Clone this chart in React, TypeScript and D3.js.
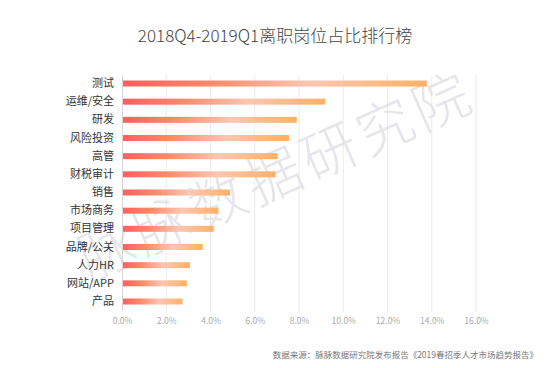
import React, { useEffect, useRef } from "react";
import * as d3 from "d3";

const categories = [
  "测试",
  "运维/安全",
  "研发",
  "风险投资",
  "高管",
  "财税审计",
  "销售",
  "市场商务",
  "项目管理",
  "品牌/公关",
  "人力HR",
  "网站/APP",
  "产品",
];
const values = [13.78, 9.19, 7.9, 7.55, 7.04, 6.94, 4.89, 4.36, 4.15, 3.65, 3.07, 2.93, 2.74];
const xTicks = [0, 2, 4, 6, 8, 10, 12, 14, 16];

const title = "2018Q4-2019Q1离职岗位占比排行榜";
const source = "数据来源：脉脉数据研究院发布报告《2019春招季人才市场趋势报告》";
const watermark = "脉脉数据研究院";

const font = "'Noto Sans CJK SC', 'Noto Sans', sans-serif";

const App = () => {
  const ref = useRef<SVGSVGElement>(null);

  useEffect(() => {
    const width = 550;
    const height = 368;
    const svg = d3.select(ref.current);
    svg.selectAll("*").remove();
    svg.attr("viewBox", [0, 0, width, height]).attr("width", width).attr("height", height);

    const x = d3.scaleLinear().domain([0, 16]).range([122, 476]);
    const y = d3.scaleBand().domain(categories).range([74.5, 310.5]).paddingInner(0.67).paddingOuter(0.33);

    const defs = svg.append("defs");
    const grad = defs
      .append("linearGradient")
      .attr("id", "barGrad")
      .attr("x1", "0")
      .attr("x2", "1")
      .attr("y1", "0")
      .attr("y2", "0");
    grad.append("stop").attr("offset", "0").attr("stop-color", "#ff5e5e");
    grad.append("stop").attr("offset", "0.3").attr("stop-color", "#fd8a6a");
    grad.append("stop").attr("offset", "0.62").attr("stop-color", "#fcc6b2");
    grad.append("stop").attr("offset", "1").attr("stop-color", "#ffb066");

    svg.append("rect").attr("width", width).attr("height", height).attr("fill", "#fff");

    svg
      .append("text")
      .attr("x", 275)
      .attr("y", 42)
      .attr("text-anchor", "middle")
      .attr("font-family", font)
      .attr("font-size", 17)
      .attr("font-weight", 300)
      .attr("fill", "#444")
      .text(title);

    // grid
    svg
      .append("g")
      .selectAll("line")
      .data(xTicks.slice(1))
      .join("line")
      .attr("x1", (d) => x(d))
      .attr("x2", (d) => x(d))
      .attr("y1", 75)
      .attr("y2", 312)
      .attr("stroke", "#ececec")
      .attr("stroke-width", 1);

    // watermark
    svg
      .append("text")
      .attr("transform", "translate(278,180) rotate(-24)")
      .attr("text-anchor", "middle")
      .attr("dominant-baseline", "middle")
      .attr("font-family", font)
      .attr("font-size", 56)
      .attr("font-weight", 300)
      .attr("letter-spacing", 5)
      .attr("fill", "#dcdce6")
      .attr("fill-opacity", 0.75)
      .text(watermark);

    // bars
    svg
      .append("g")
      .selectAll("rect")
      .data(values)
      .join("rect")
      .attr("x", x(0))
      .attr("y", (d, i) => y(categories[i])!)
      .attr("width", (d) => x(d) - x(0))
      .attr("height", y.bandwidth())
      .attr("fill", "url(#barGrad)");

    // left axis
    const yAxis = svg
      .append("g")
      .attr("transform", `translate(${x(0)},0)`)
      .call(d3.axisLeft(y).tickSize(0).tickPadding(8));
    yAxis.select(".domain").attr("stroke", "#d6d6d6");
    yAxis
      .selectAll("text")
      .attr("font-family", font)
      .attr("font-size", 11)
      .attr("fill", "#333");

    // bottom tick labels
    const xAxis = svg
      .append("g")
      .attr("transform", `translate(0,312)`)
      .call(
        d3
          .axisBottom(x)
          .tickValues(xTicks)
          .tickSize(0)
          .tickPadding(6)
          .tickFormat((d) => `${(d as number).toFixed(1)}%`)
      );
    xAxis.select(".domain").remove();
    xAxis
      .selectAll("text")
      .attr("font-family", font)
      .attr("font-size", 8.5)
      .attr("fill", "#aaa");

    svg
      .append("text")
      .attr("x", 538)
      .attr("y", 358)
      .attr("text-anchor", "end")
      .attr("font-family", font)
      .attr("font-size", 8.5)
      .attr("fill", "#777")
      .text(source);
  }, []);

  return <svg ref={ref} style={{ display: "block", position: "absolute", left: 0, top: 0 }}></svg>;
};

export default App;
